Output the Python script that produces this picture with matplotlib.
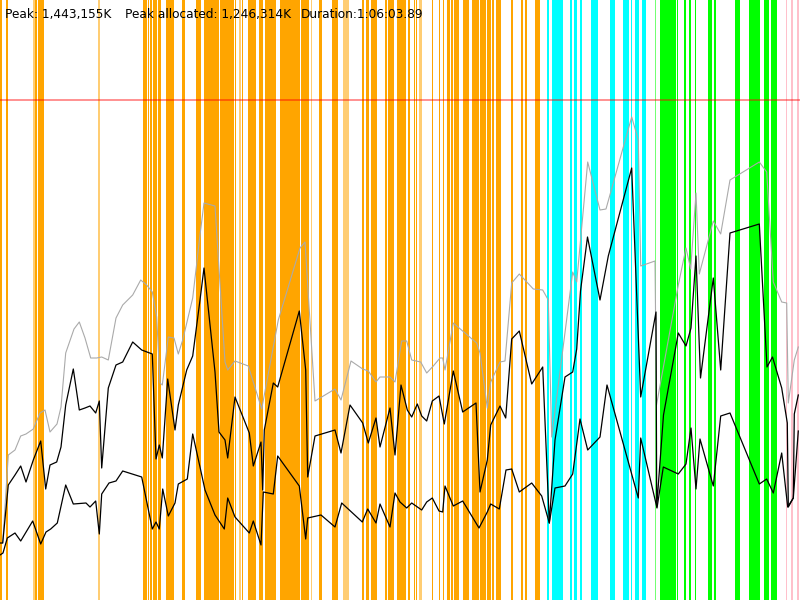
import matplotlib
matplotlib.use("Agg")
import matplotlib.pyplot as plt

# ---- data (time axis 0..800 units, memory height units, peak = 500) ----
peak_level = 500

gray_t = [2.7, 8.3, 15, 20.7, 26, 33.3, 40, 45, 50, 57, 61, 65.7, 74, 79.3, 85, 90.7, 96.7, 101.7,
          108.3, 116, 122.7, 132.7, 140.7, 146.7, 152.3, 156.7, 160, 162.3, 168.3, 174, 178.3, 182.7,
          192.7, 200, 204, 215, 225, 227.7, 235, 248.3, 261.7, 278.3, 300, 305, 315, 335, 341, 351,
          362.7, 368.3, 376, 380, 390, 395, 401.7, 406.7, 411.7, 420.7, 426.7, 433.3, 440, 442.7, 445,
          453.3, 476.7, 480, 487.3, 490.7, 500, 505, 511.7, 519.3, 533.3, 542.7, 548.3, 551.7, 572.7,
          576.7, 587.7, 600, 606, 631.7, 638.3, 640.7, 655, 656.5, 678.3, 686, 690.7, 696, 699.3, 713.3,
          720.7, 730, 759.3, 766.7, 773.3, 781.7, 786.7, 788.3, 794.3, 798.3]
gray_v = [57, 145, 150, 164, 166, 171, 187, 190, 168, 176, 193, 247, 271, 278, 262, 242, 242, 243,
          240, 282, 295, 305, 320, 315, 308, 283, 217, 215, 263, 262, 246, 260,
          302, 365, 397, 394, 238, 230, 239, 234, 191, 280, 352, 358, 199, 211, 200, 239,
          231, 229, 218, 223, 223, 218, 259, 259, 240, 238, 227, 234, 242, 242, 230,
          277, 257, 247, 192, 218, 238, 239, 317, 326, 311, 310, 300, 163, 328,
          318, 438, 390, 391, 483, 460, 334, 339, 195, 315, 352, 331, 407, 326, 379,
          366, 420, 438, 428, 318, 298, 297, 197, 240, 253]

mid_t = [0, 2.7, 8.3, 15, 20.7, 26, 33.3, 40.7, 45.7, 50, 56.7, 61, 65.7, 73.3, 79.3, 85, 90, 95.7,
         99.3, 101.7, 108.3, 116, 122.7, 132.7, 141.7, 152.3, 156, 159.3, 162.3, 167.7, 175, 178.3,
         186.7, 192.7, 200, 204, 215, 219, 225, 227.7, 235, 249.3, 253.3, 261, 262.7, 264.3, 273.3,
         277.7, 299.3, 305.7, 307.7, 315, 335, 341, 350, 362.7, 368.3, 376, 380, 390, 395, 401,
         407.3, 411.7, 417.3, 421.7, 426.7, 432.3, 439, 444.3, 453.3, 462.7, 476, 480, 487.3, 490.7,
         500, 505.7, 511.7, 519.3, 531.7, 542.7, 549.3, 555, 565, 572.7, 576.7, 580.5, 587.5, 600,
         608.3, 631.7, 640.7, 656, 656.7, 663.5, 678.3, 686, 691, 696, 700.5, 713.3, 720.7, 730,
         759.3, 767, 772.5, 781.7, 787.3, 788.3, 793.3, 794.3, 798.3]
mid_v = [57, 57, 115, 125, 134, 118, 140, 159, 111, 135, 138, 153, 195, 231, 190, 192, 194, 187,
         199, 132, 212, 235, 238, 258, 250, 246, 141, 155, 142, 221, 170, 195,
         230, 244, 300, 332, 228, 168, 160, 142, 203, 167, 134, 158, 110, 170, 217,
         213, 289, 230, 123, 164, 170, 147, 195, 177, 157, 182, 153, 192, 145, 215,
         190, 183, 196, 184, 179, 199, 204, 176, 229, 188, 197, 108, 140, 175,
         194, 182, 261, 269, 216, 233, 77, 160, 223, 228, 251, 309, 363, 300,
         344, 432, 203, 288, 93, 185, 267, 254, 272, 344, 222, 322, 230, 367,
         376, 233, 243, 212, 177, 93, 102, 186, 205]

low_t = [0, 3, 7.3, 15, 20.7, 32.7, 40.7, 46, 50.7, 57.3, 65.7, 73.3, 86, 90, 95.7, 99.3, 101.7,
         109, 116, 122.7, 141.7, 152.3, 156, 159.3, 162.7, 168.3, 175, 178.3, 187.3, 192.7, 200,
         205, 215, 224.3, 227.7, 235, 249.3, 253.3, 261, 263.3, 273.3, 277.7, 299.3, 305.7, 307.7,
         321, 335, 341.7, 362.3, 367.7, 376, 380, 390, 395, 400, 406.7, 411.7, 421.7, 426.7, 432.3,
         439, 442.7, 445, 453.3, 462.7, 479, 487.3, 490.7, 499.3, 506, 511.7, 519.3, 531.7, 541.7,
         549.3, 555, 565, 572.7, 580, 587.7, 600, 607, 638.3, 640.7, 657, 663.3, 678.3, 686, 691,
         696, 700, 713.3, 720.7, 730, 759.3, 766.7, 773.3, 781.7, 787.7, 793.3, 798.3]
low_v = [45, 47, 62, 67, 59, 79, 56, 68, 71, 77, 115, 96, 97, 93, 99, 66, 106,
         117, 119, 129, 123, 71, 78, 71, 111, 84, 97, 116, 121, 166, 133,
         110, 85, 71, 102, 83, 67, 79, 55, 108, 106, 144, 114, 61, 82,
         85, 73, 97, 78, 91, 77, 96, 73, 107, 98, 92, 97, 90, 98, 102,
         89, 88, 114, 94, 99, 72, 88, 96, 91, 130, 131, 108, 117, 104,
         77, 112, 114, 126, 181, 150, 163, 215, 102, 162, 92, 133, 126, 136, 172,
         111, 161, 114, 184, 187, 116, 121, 107, 147, 93, 102, 169]

# event bands: (start, end, kind, faint)
orange_events = [(0, 2, 0), (6, 7.7, 0), (33, 34.7, 1), (34.7, 37, 0), (37.7, 43.7, 0), (98, 99.7, 1),
                 (143, 147, 0), (147.7, 149.3, 0), (150, 152.3, 0), (153, 157, 0), (158, 161, 0),
                 (165.7, 173.7, 0), (181.7, 184.7, 0), (196, 201, 0), (204, 219, 0), (220, 234.3, 0),
                 (235, 235.7, 0), (239.3, 240.7, 1), (241.7, 242.7, 0), (247.7, 256, 0), (259, 263.3, 0),
                 (264.7, 276, 0), (280, 300, 0), (300.7, 309.3, 0), (311, 312, 1), (319, 322, 0),
                 (332, 337.7, 0), (343, 348.7, 1), (362, 364, 0), (366, 368.7, 0), (371, 376.7, 0),
                 (385, 386.7, 0), (387.7, 393.7, 0), (396.7, 405.7, 0), (408.3, 409.7, 0),
                 (413.7, 414.7, 0), (415.7, 417.3, 0), (419, 422, 1), (432.3, 433.3, 0), (439, 440.3, 0),
                 (442.7, 444.3, 0), (447.3, 450, 0), (450.7, 452.7, 0), (453.7, 459.3, 0), (463, 468.7, 0),
                 (471.7, 479, 0), (479.7, 486, 0), (486.7, 491.3, 0), (492.3, 494, 0), (496.3, 501, 0),
                 (511, 512.7, 0), (521, 523.3, 0), (524.7, 527.3, 0), (535.3, 540.3, 0)]
cyan_events = [(547.3, 549, 0), (552, 563.3, 0), (570.3, 572, 0), (574.3, 577.3, 0), (580, 581.7, 0),
               (590.7, 597.7, 0), (609.7, 615, 0), (622.7, 629.3, 0), (630.7, 632, 0), (635, 639.3, 0),
               (641.7, 645.7, 0)]
green_events = [(655, 656.3, 1), (660, 676, 0), (676.7, 678, 0), (683.7, 685.7, 0), (688.7, 691, 0),
                (694.7, 696, 0), (707.7, 712, 0), (713.7, 716.3, 0), (734.7, 740.3, 0), (749, 756.7, 0),
                (757.3, 759.7, 0), (763.7, 769, 0), (771, 776.7, 0)]
pink_events = [(785.7, 787.3, 0), (790.7, 793.3, 0), (796.7, 798.7, 0)]

header = ["Peak: 1,443,155K", "Peak allocated: 1,246,314K", "Duration:1:06:03.89"]
header_x = [5, 125, 301]

# ---- drawing ----
fig = plt.figure(figsize=(8, 6), dpi=100)
ax = fig.add_axes([0, 0, 1, 1])
ax.set_xlim(0, 800)
ax.set_ylim(0, 600)
ax.axis("off")

for events, col in [(orange_events, "#FFA500"), (cyan_events, "#00FFFF"),
                    (green_events, "#00FF00"), (pink_events, "#FFC0CB")]:
    for s, e, faint in events:
        ax.axvspan(s, e, color=col, alpha=0.55 if faint else 1.0, lw=0, zorder=1)

ax.axhline(peak_level, color="red", alpha=0.55, lw=1.1, zorder=2)

ax.plot(gray_t, gray_v, color="#AAAAAA", lw=0.8, zorder=3)
ax.plot(mid_t, mid_v, color="black", lw=0.9, zorder=4)
ax.plot(low_t, low_v, color="black", lw=0.9, zorder=4)

for s, x in zip(header, header_x):
    fig.text(x / 800, 1 - 18 / 600, s, fontsize=8.7, color="black", va="baseline",
             ha="left", family="DejaVu Sans", zorder=5)

fig.savefig("out.png", dpi=100)
